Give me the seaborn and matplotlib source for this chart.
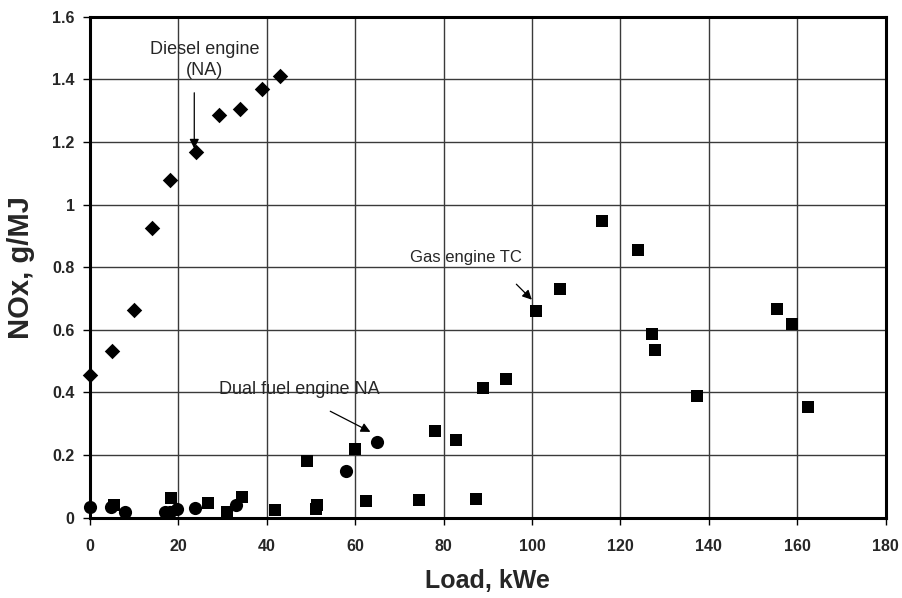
import matplotlib
matplotlib.use("Agg")
import matplotlib.pyplot as plt
import seaborn as sns
import pandas as pd
from matplotlib.ticker import FuncFormatter

# ---- data ----
diesel_load = [0, 5.0, 10.0, 14.0, 18.0, 24.0, 29.1, 34.0, 39.0, 43.1]
diesel_nox = [0.456, 0.533, 0.663, 0.925, 1.079, 1.167, 1.287, 1.306, 1.37, 1.41]

gas_load = [5.4, 18.3, 26.8, 31.0, 34.5, 41.8, 51.2, 51.4, 49.1, 59.9, 62.4, 74.4,
            87.4, 78.0, 82.8, 89.0, 94.1, 100.9, 106.3, 115.9, 123.9, 127.1,
            127.8, 137.3, 155.3, 158.7, 162.4]
gas_nox = [0.042, 0.062, 0.048, 0.019, 0.067, 0.025, 0.028, 0.042, 0.18, 0.22, 0.054, 0.055,
           0.059, 0.276, 0.248, 0.413, 0.442, 0.66, 0.73, 0.949, 0.855, 0.588,
           0.535, 0.39, 0.665, 0.619, 0.355]

dual_load = [0, 4.7, 7.9, 17.0, 18.2, 19.8, 23.8, 33.0, 57.9, 64.9]
dual_nox = [0.035, 0.035, 0.019, 0.017, 0.017, 0.028, 0.03, 0.04, 0.15, 0.243]

x_ticks = [0, 20, 40, 60, 80, 100, 120, 140, 160, 180]
y_ticks = [0, 0.2, 0.4, 0.6, 0.8, 1.0, 1.2, 1.4, 1.6]

sns.set_theme(style="white")
plt.rcParams['font.family'] = ['Liberation Sans', 'DejaVu Sans']

fig = plt.figure(figsize=(9.02, 5.98), dpi=100)
ax = fig.add_axes([0.0997, 0.1343, 0.982 - 0.0997, 0.972 - 0.1343])

df_d = pd.DataFrame({"load": diesel_load, "nox": diesel_nox})
df_g = pd.DataFrame({"load": gas_load, "nox": gas_nox})
df_f = pd.DataFrame({"load": dual_load, "nox": dual_nox})

sns.scatterplot(data=df_g, x="load", y="nox", marker="s", s=82, color="black",
                linewidth=0, ax=ax, zorder=3, clip_on=False)
sns.scatterplot(data=df_f, x="load", y="nox", marker="o", s=90, color="black",
                linewidth=0, ax=ax, zorder=3, clip_on=False)
sns.scatterplot(data=df_d, x="load", y="nox", marker="D", s=62, color="black",
                linewidth=0, ax=ax, zorder=3, clip_on=False)

ax.set_xlim(0, 180)
ax.set_ylim(0, 1.6)
ax.set_xticks(x_ticks)
ax.set_yticks(y_ticks)
ax.yaxis.set_major_formatter(FuncFormatter(lambda v, p: f"{v:g}"))
ax.grid(True, color="#3a3a3a", linewidth=1.0)
ax.set_axisbelow(True)
for sp in ax.spines.values():
    sp.set_color("black")
    sp.set_linewidth(2.2)
    sp.set_visible(True)
ax.tick_params(axis="both", direction="out", length=5, width=1, color="black",
               labelsize=11.5, pad=6, bottom=True, left=True)
for lab in ax.get_xticklabels() + ax.get_yticklabels():
    lab.set_fontweight("bold")
ax.tick_params(axis="x", pad=10)

ax.set_xlabel("Load, kWe", fontsize=18, fontweight="bold", labelpad=11)
ax.set_ylabel("NOx, g/MJ", fontsize=21, fontweight="bold", labelpad=12)

# annotations
arrow = dict(arrowstyle="-|>", color="black", lw=0.9, mutation_scale=14)
ax.text(26.0, 1.462, "Diesel engine\n(NA)", ha="center", va="center",
        fontsize=13, linespacing=1.25)
ax.annotate("", xy=(23.6, 1.17), xytext=(23.6, 1.366), arrowprops=arrow)

ax.text(85.0, 0.83, "Gas engine TC", ha="center", va="center", fontsize=12)
ax.annotate("", xy=(100.4, 0.69), xytext=(96.0, 0.752), arrowprops=arrow)

ax.text(47.4, 0.408, "Dual fuel engine NA", ha="center", va="center", fontsize=13)
ax.annotate("", xy=(64.0, 0.27), xytext=(53.8, 0.344), arrowprops=arrow)

fig.savefig("out.png", dpi=100)
